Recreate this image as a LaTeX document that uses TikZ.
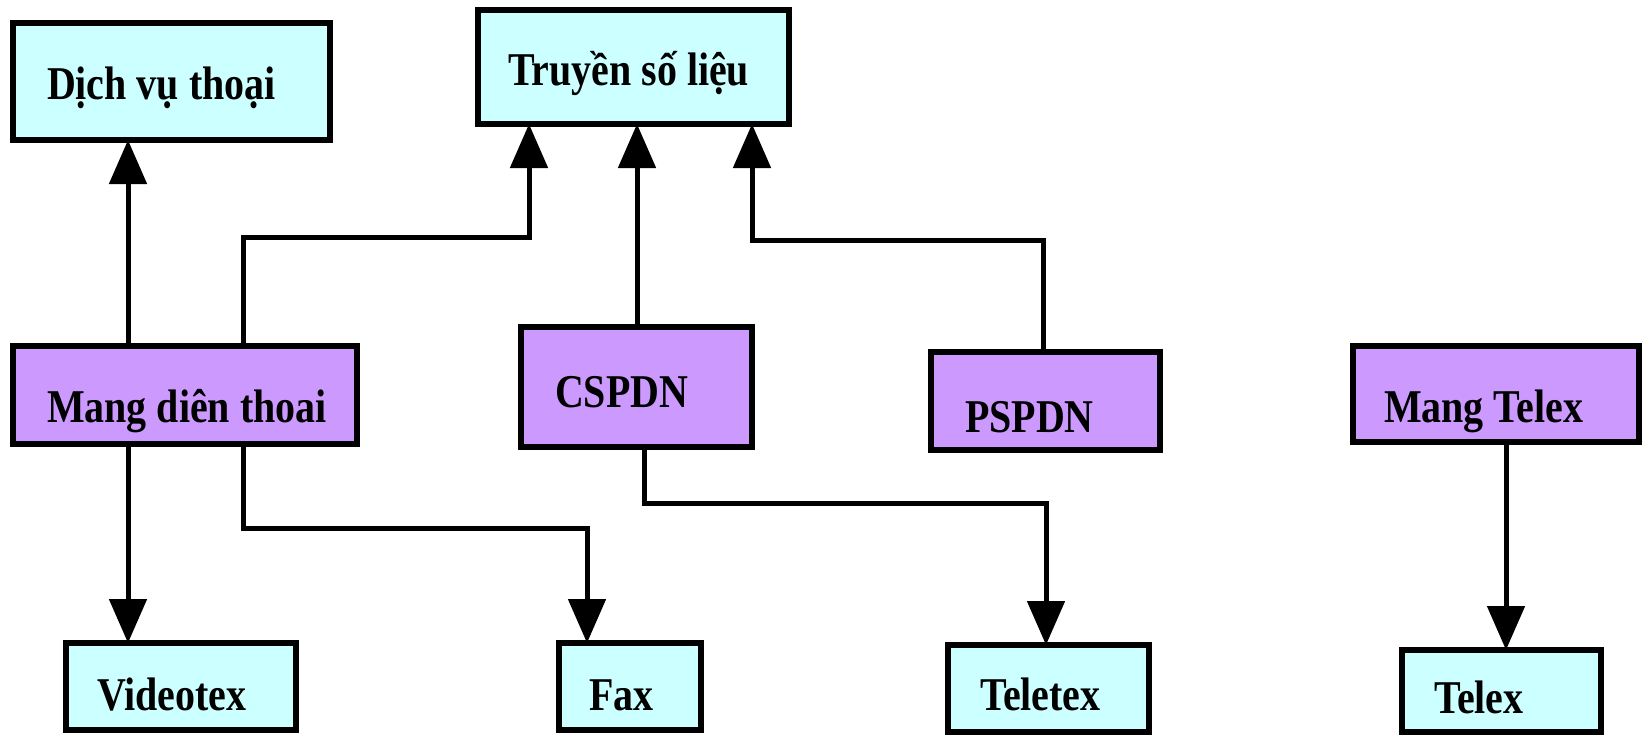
\documentclass[tikz,border=0pt]{standalone}
\usepackage{fontspec}
\newfontfamily\lblfont{Liberation Serif}[FakeStretch=0.85]
\usetikzlibrary{arrows.meta}
\definecolor{svcfill}{HTML}{CCFFFF}
\definecolor{netfill}{HTML}{CC99FF}
\begin{document}
\begin{tikzpicture}[x=1pt,y=-1pt,
  svc/.style={draw=black, line width=6pt, fill=svcfill, inner sep=0pt, outer sep=0pt},
  net/.style={svc, fill=netfill},
  lbl/.style={anchor=base west, inner sep=0pt, outer sep=0pt,
              font=\lblfont\bfseries\fontsize{47}{50}\selectfont},
  conn/.style={line width=5pt, line join=miter,
               -{Triangle[length=44pt,width=37pt]}}]
\useasboundingbox (0,0) rectangle (1643,736);

% service boxes
\node[svc, minimum width=317pt, minimum height=117pt] (dich) at (171.5,81.5) {};
\node[svc, minimum width=311pt, minimum height=114pt] (truyen) at (633.5,67) {};
\node[svc, minimum width=230pt, minimum height=87pt] (videotex) at (181,686.5) {};
\node[svc, minimum width=142pt, minimum height=87pt] (fax) at (630,686.5) {};
\node[svc, minimum width=201pt, minimum height=87pt] (teletex) at (1048.5,688.5) {};
\node[svc, minimum width=199pt, minimum height=82pt] (telex) at (1501.5,691) {};

% network boxes
\node[net, minimum width=344pt, minimum height=98pt] (mang) at (185,395) {};
\node[net, minimum width=231pt, minimum height=120pt] (cspdn) at (636.5,387) {};
\node[net, minimum width=229pt, minimum height=98pt] (pspdn) at (1045.5,401) {};
\node[net, minimum width=286pt, minimum height=96pt] (mtelex) at (1496,394) {};

% labels
\node[lbl] (dichT) at (47,99) {Dịch vụ thoại};
\node[lbl] (truyenT) at (508,85) {Truyền số liệu};
\node[lbl] (mangT) at (47,422) {Mang diên thoai};
\node[lbl] (cspdnT) at (555,407) {CSPDN};
\node[lbl] (pspdnT) at (965,432) {PSPDN};
\node[lbl] (mtelexT) at (1384,422) {Mang Telex};
\node[lbl] (videotexT) at (97,710) {Videotex};
\node[lbl] (faxT) at (589,710) {Fax};
\node[lbl] (teletexT) at (980,710) {Teletex};
\node[lbl] (telexT) at (1434,713) {Telex};

% bend points
\coordinate (k1) at (529,237);
\coordinate (k2) at (752,240);
\coordinate (k3) at (587,528);
\coordinate (k4) at (1046,503);

% connectors
\draw[conn] (mang.north -| 128,0) -- (dich.south -| 128,0);
\draw[conn] (mang.north -| 243,0) |- (k1) -- (truyen.south -| k1);
\draw[conn] (cspdn.north -| 637,0) -- (truyen.south -| 637,0);
\draw[conn] (pspdn.north -| 1043,0) |- (k2) -- (truyen.south -| k2);
\draw[conn] (mang.south -| 128,0) -- (videotex.north -| 128,0);
\draw[conn] (mang.south -| 243,0) |- (k3) -- (fax.north -| k3);
\draw[conn] (cspdn.south -| 644,0) |- (k4) -- (teletex.north -| k4);
\draw[conn] (mtelex.south -| 1506,0) -- (telex.north -| 1506,0);
\end{tikzpicture}
\end{document}
